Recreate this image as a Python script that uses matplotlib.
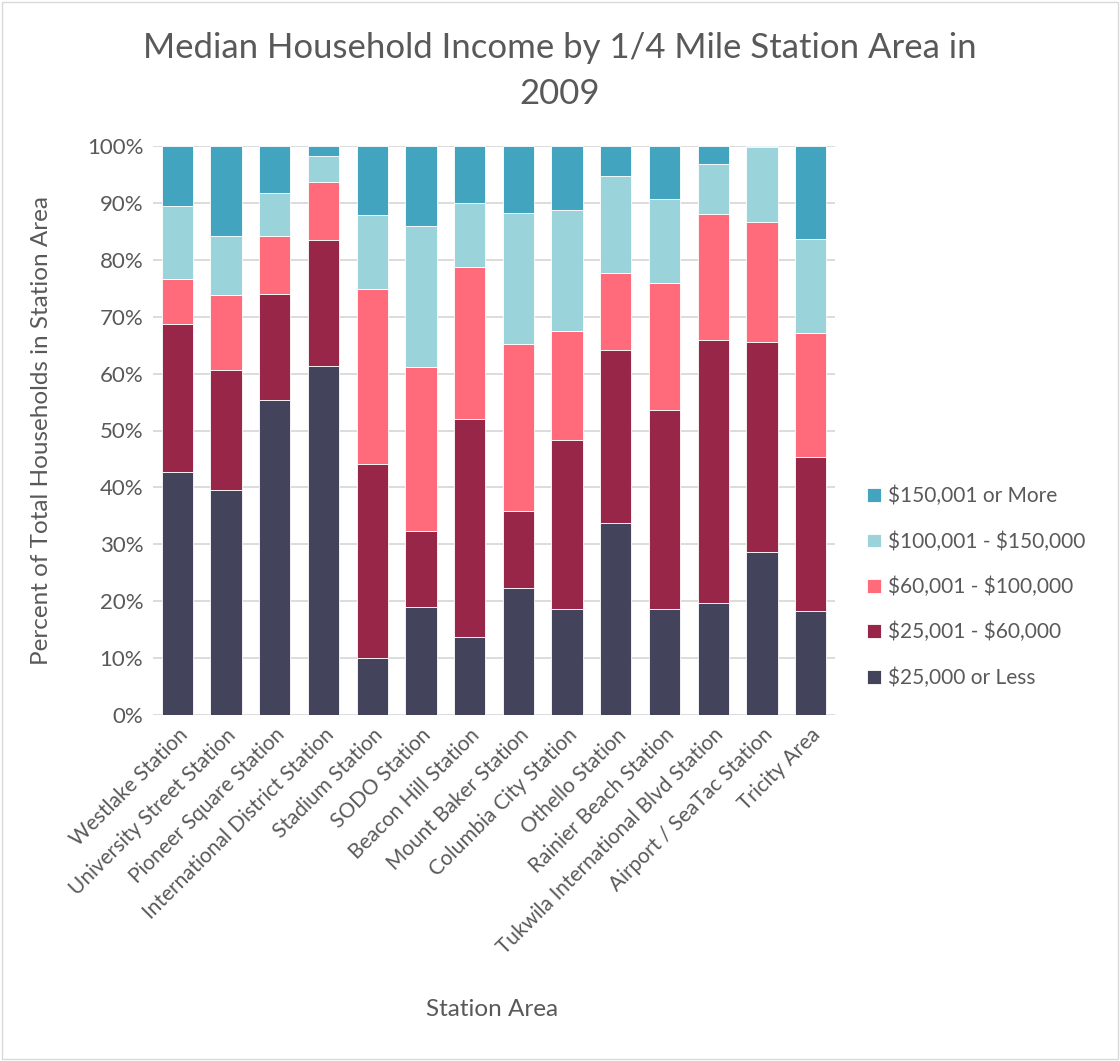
import matplotlib.pyplot as plt
import numpy as np
from matplotlib.patches import Rectangle

stations = ["Westlake Station", "University Street Station", "Pioneer Square Station",
            "International District Station", "Stadium Station", "SODO Station",
            "Beacon Hill Station", "Mount Baker Station", "Columbia City Station",
            "Othello Station", "Rainier Beach Station", "Tukwila International Blvd Station",
            "Airport / SeaTac Station", "Tricity Area"]

# percent of households per income band (bottom to top)
under_25k = [42.7, 39.5, 55.4, 61.3, 10.0, 19.0, 13.7, 22.3, 18.6, 33.8, 18.6, 19.6, 28.6, 18.2]
k25_60 = [26.1, 21.2, 18.6, 22.1, 34.2, 13.4, 38.4, 13.5, 29.7, 30.4, 35.0, 46.3, 37.0, 27.2]
k60_100 = [7.9, 13.2, 10.1, 10.3, 30.7, 28.7, 26.6, 29.4, 19.2, 13.5, 22.4, 22.2, 21.1, 21.7]
k100_150 = [12.8, 10.2, 7.6, 4.5, 13.0, 24.8, 11.2, 23.0, 21.3, 17.1, 14.7, 8.7, 13.1, 16.6]
over_150k = [10.5, 15.9, 8.3, 1.8, 12.1, 14.1, 10.1, 11.8, 11.2, 5.2, 9.3, 3.2, 0.2, 16.3]

series = [under_25k, k25_60, k60_100, k100_150, over_150k]
labels = [r"\$25,000 or Less", r"\$25,001 - \$60,000", r"\$60,001 - \$100,000",
          r"\$100,001 - \$150,000", r"\$150,001 or More"]
colors = ["#43435B", "#982649", "#FF6B7A", "#9BD3DA", "#42A4BE"]

plt.rcParams['font.family'] = ['Lato', 'DejaVu Sans']
text_col = "#595959"

fig = plt.figure(figsize=(11.2, 10.61), dpi=100)
ax = fig.add_axes([153 / 1120, 1 - 715 / 1061, (835 - 153) / 1120, (715 - 146) / 1061])

x = np.arange(len(stations))
bottom = np.zeros(len(stations))
handles = []
for vals, lab, col in zip(series, labels, colors):
    b = ax.bar(x, vals, 0.64, bottom=bottom, color=col, label=lab,
               edgecolor="white", linewidth=0.6, zorder=3)
    handles.append(b)
    bottom += np.array(vals)

ax.set_xlim(-0.5, len(stations) - 0.5)
ax.set_ylim(0, 100)
ax.set_yticks(np.arange(0, 101, 10))
ax.set_yticklabels([f"{v}%" for v in range(0, 101, 10)], fontsize=16, color=text_col)
ax.set_xticks(x)
ax.set_xticklabels(stations, rotation=45, ha="right", rotation_mode="anchor",
                   fontsize=15, color=text_col)
ax.tick_params(length=0, pad=7)
ax.grid(axis="y", color="#D9D9D9", linewidth=1.3, zorder=0)
for s in ax.spines.values():
    s.set_visible(False)

ax.set_ylabel("Percent of Total Households in Station Area", fontsize=17.5, color=text_col)
ax.yaxis.set_label_coords(-(153 - 52) / 682, 0.5)
fig.text(492 / 1120, 1 - 1009 / 1061, "Station Area", fontsize=17.5, color=text_col,
         ha="center", va="center")
fig.text(560 / 1120, 1 - 71 / 1061, "Median Household Income by 1/4 Mile Station Area in\n2009",
         fontsize=25, color=text_col, ha="center", va="center", linespacing=1.5)

leg = ax.legend(handles[::-1], labels[::-1], loc="center left", bbox_to_anchor=(1.02, 0.225),
                frameon=False, fontsize=15, labelcolor=text_col, handlelength=0.65,
                handleheight=0.65, handletextpad=0.35, labelspacing=1.2)

fig.patches.append(Rectangle((0.002, 0.002), 0.996, 0.996, transform=fig.transFigure,
                             fill=False, edgecolor="#D9D9D9", linewidth=1))

fig.savefig("out.png", dpi=100)
